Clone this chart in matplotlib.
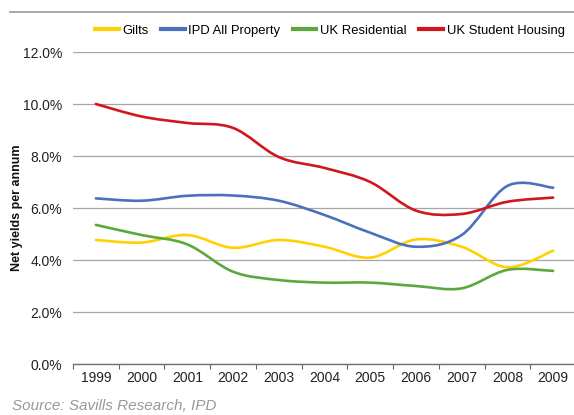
import numpy as np
import matplotlib
matplotlib.use("Agg")
import matplotlib.pyplot as plt
from matplotlib.path import Path
from matplotlib.patches import PathPatch
from matplotlib.lines import Line2D

plt.rcParams['font.family'] = ['Liberation Sans', 'DejaVu Sans']

years = ['1999', '2000', '2001', '2002', '2003', '2004', '2005', '2006', '2007', '2008', '2009']
gilts = [4.77, 4.67, 4.96, 4.47, 4.77, 4.51, 4.09, 4.79, 4.51, 3.72, 4.36]
ipd_all = [6.37, 6.28, 6.47, 6.48, 6.28, 5.73, 5.05, 4.51, 4.96, 6.85, 6.78]
uk_resi = [5.35, 4.96, 4.60, 3.55, 3.23, 3.13, 3.13, 3.00, 2.91, 3.62, 3.58]
uk_student = [10.0, 9.52, 9.27, 9.08, 7.96, 7.54, 7.00, 5.90, 5.77, 6.24, 6.40]

series = [
    ('Gilts', gilts, '#FFD100'),
    ('IPD All Property', ipd_all, '#4A70BE'),
    ('UK Residential', uk_resi, '#5DA83E'),
    ('UK Student Housing', uk_student, '#D2161E'),
]


def smooth_path(xs, ys):
    # excel-like smoothed line as cubic bezier segments
    pts = np.column_stack([xs, ys]).astype(float)
    n = len(pts)
    verts = [pts[0]]
    codes = [Path.MOVETO]
    for i in range(n - 1):
        p0 = pts[i - 1] if i > 0 else pts[i]
        p1 = pts[i]
        p2 = pts[i + 1]
        p3 = pts[i + 2] if i + 2 < n else pts[i + 1]
        c1 = p1 + (p2 - p0) / 6.0
        c2 = p2 - (p3 - p1) / 6.0
        verts += [c1, c2, p2]
        codes += [Path.CURVE4] * 3
    return Path(verts, codes)


fig = plt.figure(figsize=(5.74, 4.15), dpi=100)
ax = fig.add_axes([73 / 574, 1 - 364 / 415, (576 - 73) / 574, (364 - 52) / 415])

x = np.arange(len(years))
for name, vals, col in series:
    ax.add_patch(PathPatch(smooth_path(x, vals), facecolor='none', edgecolor=col,
                           lw=1.9, capstyle='round', joinstyle='round', zorder=3))

ax.set_xlim(-0.5, len(years) - 0.5)
ax.set_ylim(0, 12)
ax.set_yticks(np.arange(0, 12.1, 2))
ax.set_yticklabels([f'{v:.1f}%' for v in np.arange(0, 12.1, 2)])
ax.set_xticks(x)
ax.set_xticklabels(years)
ax.set_xticks(np.arange(-0.5, len(years)), minor=True)
ax.tick_params(axis='x', which='major', length=0, pad=5, labelsize=10, colors='#222222')
ax.tick_params(axis='x', which='minor', length=3.5, width=0.8, color='#666666', direction='out')
ax.tick_params(axis='y', length=0, pad=8, labelsize=10, colors='#222222')

ax.grid(axis='y', color='#a6a6a6', lw=0.9)
ax.set_axisbelow(True)
for s in ['top', 'right', 'left']:
    ax.spines[s].set_visible(False)
ax.spines['bottom'].set_color('#707070')
ax.spines['bottom'].set_linewidth(1.0)
ax.spines['bottom'].set_zorder(4)

handles = [Line2D([0], [0], color=c, lw=3) for _, _, c in series]
fig.legend(handles, [s[0] for s in series], loc='center left',
           bbox_to_anchor=(95 / 574, 1 - 31 / 415), ncol=4, frameon=False,
           fontsize=9.4, handlelength=1.8, handletextpad=0.3, columnspacing=0.95,
           borderaxespad=0, borderpad=0)

fig.text(17 / 574, 1 - 208 / 415, 'Net yields per annum', rotation=90,
         ha='center', va='center', fontsize=9, fontweight='bold', color='#111111')
fig.text(12 / 574, 1 - 406 / 415, 'Source: Savills Research, IPD', ha='left', va='center',
         fontsize=11, style='italic', color='#999999')

fig.add_artist(Line2D([10 / 574, 1.0], [1 - 12 / 415, 1 - 12 / 415],
                      color='#999999', lw=1.2, transform=fig.transFigure))

fig.savefig('out.png', dpi=100)
